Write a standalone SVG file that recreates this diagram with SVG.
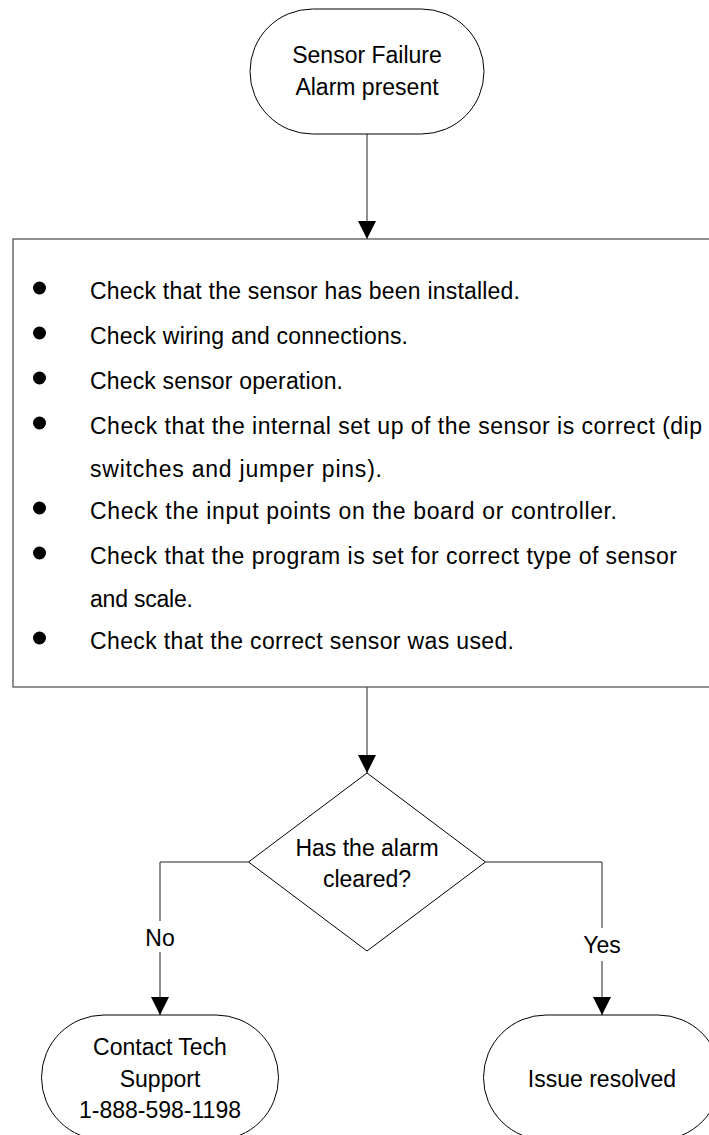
<svg xmlns="http://www.w3.org/2000/svg" width="709" height="1135" viewBox="0 0 709 1135">
  <style>
    .shape { fill: #ffffff; stroke: #000000; stroke-width: 1; }
    .box { fill: #ffffff; stroke: #555555; stroke-width: 1.3; }
    .conn { fill: none; stroke: #222222; stroke-width: 1; }
    text { font-family: "Liberation Sans", Arial, sans-serif; font-size: 23px; fill: #000000; }
    .c { text-anchor: middle; }
    .bullet { fill: #000000; }
  </style>
  <defs>
    <marker id="arrow" markerUnits="userSpaceOnUse" markerWidth="18" markerHeight="18" refX="18" refY="9" orient="auto">
      <path d="M0,0 L18,9 L0,18 Z" fill="#000000"/>
    </marker>
  </defs>

  <rect width="709" height="1135" fill="#ffffff"/>

  <!-- connectors -->
  <g id="connectors">
    <path class="conn" d="M367,134 V239" marker-end="url(#arrow)"/>
    <path class="conn" d="M367,687 V773" marker-end="url(#arrow)"/>
    <path class="conn" d="M248.5,862 H160 V1015" marker-end="url(#arrow)"/>
    <path class="conn" d="M485.5,862 H602 V1015" marker-end="url(#arrow)"/>
    <g id="label-no">
      <rect x="142" y="921" width="36" height="31" fill="#ffffff"/>
      <text class="c" x="160" y="945.5">No</text>
    </g>
    <g id="label-yes">
      <rect x="580" y="928" width="44" height="33" fill="#ffffff"/>
      <text class="c" x="602" y="953">Yes</text>
    </g>
  </g>

  <!-- start terminator -->
  <g id="start">
    <rect class="shape" x="250" y="9" width="234" height="125" rx="62.5" ry="62.5"/>
    <text class="c" x="367" y="63">Sensor Failure</text>
    <text class="c" x="367" y="94.5">Alarm present</text>
  </g>

  <!-- checklist process box (runs past the right edge) -->
  <g id="checklist">
    <rect class="box" x="13" y="239" width="720" height="448"/>
    <circle class="bullet" cx="39.5" cy="288" r="6.5"/>
    <text x="90" y="299" textLength="430" lengthAdjust="spacing">Check that the sensor has been installed.</text>
    <circle class="bullet" cx="39.5" cy="333" r="6.5"/>
    <text x="90" y="344" textLength="318" lengthAdjust="spacing">Check wiring and connections.</text>
    <circle class="bullet" cx="39.5" cy="378" r="6.5"/>
    <text x="90" y="389" textLength="253" lengthAdjust="spacing">Check sensor operation.</text>
    <circle class="bullet" cx="39.5" cy="423" r="6.5"/>
    <text x="90" y="434" textLength="612" lengthAdjust="spacing">Check that the internal set up of the sensor is correct (dip</text>
    <text x="90" y="477" textLength="292" lengthAdjust="spacing">switches and jumper pins).</text>
    <circle class="bullet" cx="39.5" cy="508" r="6.5"/>
    <text x="90" y="519" textLength="527" lengthAdjust="spacing">Check the input points on the board or controller.</text>
    <circle class="bullet" cx="39.5" cy="553" r="6.5"/>
    <text x="90" y="564" textLength="587" lengthAdjust="spacing">Check that the program is set for correct type of sensor</text>
    <text x="90" y="607" textLength="103" lengthAdjust="spacing">and scale.</text>
    <circle class="bullet" cx="39.5" cy="638" r="6.5"/>
    <text x="90" y="649" textLength="424" lengthAdjust="spacing">Check that the correct sensor was used.</text>
  </g>

  <!-- decision -->
  <g id="decision">
    <polygon class="shape" points="367,773 485.5,862 367,951 248.5,862"/>
    <text class="c" x="367" y="856">Has the alarm</text>
    <text class="c" x="367" y="887">cleared?</text>
  </g>

  <!-- outcome: not cleared -->
  <g id="contact-support">
    <rect class="shape" x="41.5" y="1015" width="237" height="125" rx="62.5" ry="62.5"/>
    <text class="c" x="160" y="1055">Contact Tech</text>
    <text class="c" x="160" y="1086.5">Support</text>
    <text class="c" x="160" y="1118">1-888-598-1198</text>
  </g>

  <!-- outcome: cleared -->
  <g id="resolved">
    <rect class="shape" x="483.5" y="1015" width="237" height="125" rx="62.5" ry="62.5"/>
    <text class="c" x="602" y="1087">Issue resolved</text>
  </g>
</svg>
